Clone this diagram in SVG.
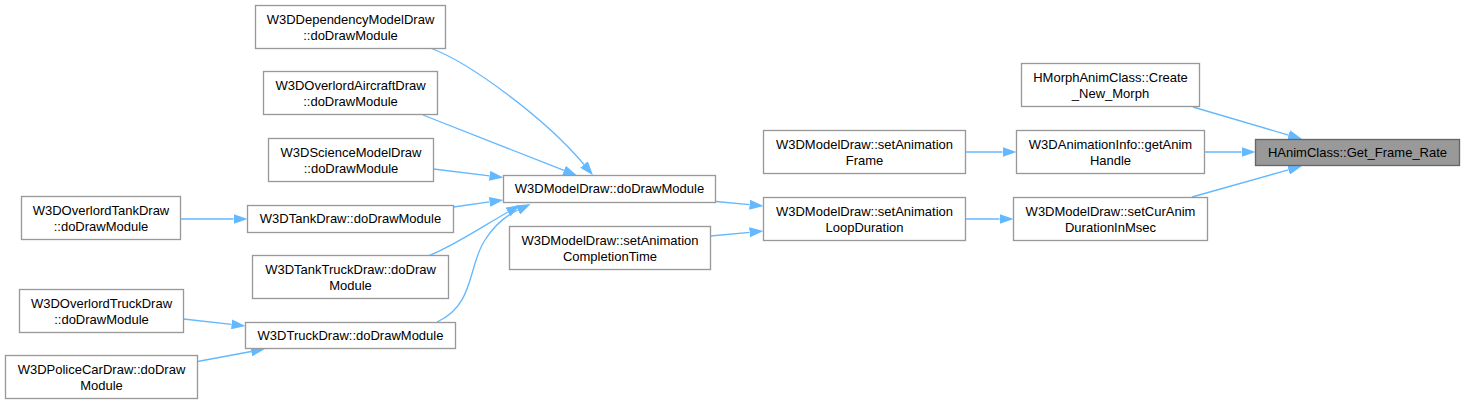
<svg xmlns="http://www.w3.org/2000/svg" width="1465" height="404" viewBox="0 0 1465 404">
<style>
.box{fill:#ffffff;stroke:#999999;stroke-width:1.33}
.main{fill:#999999;stroke:#666666;stroke-width:1.33}
text{font-family:"Liberation Sans",Arial,sans-serif;font-size:13px;fill:#000000;text-anchor:middle}
.edge{fill:none;stroke:#63b8ff;stroke-width:1.33;marker-end:url(#arr)}
</style>
<defs>
<marker id="arr" viewBox="0 0 14 10" markerWidth="14" markerHeight="10" refX="0" refY="5" markerUnits="userSpaceOnUse" orient="auto">
<path d="M0,0 L14,5 L0,10 z" fill="#63b8ff"/>
</marker>
</defs>
<rect width="1465" height="404" fill="#ffffff"/>
<g id="edges">
<path class="edge" d="M1193,107 L1288.6,135.1"/>
<path class="edge" d="M1204.5,152 L1241.5,152"/>
<path class="edge" d="M1192,197 L1288.5,169.8"/>
<path class="edge" d="M965.5,152 L1002.5,152"/>
<path class="edge" d="M965.5,219 L999.5,219"/>
<path class="edge" d="M716,201.5 L749.6,204.7"/>
<path class="edge" d="M710.5,236 L749.6,232.3"/>
<path class="edge" d="M431.5,48.5 C470,63 545,118 584,164.5"/>
<path class="edge" d="M423,115 L564,170.4"/>
<path class="edge" d="M433.5,169 L489.6,175.8"/>
<path class="edge" d="M453.5,207 L489.6,201.9"/>
<path class="edge" d="M428,256 C452,247 485,225 508,212"/>
<path class="edge" d="M437,322 C475,305 468,265 485,240 C492,229 503,217 518,210"/>
<path class="edge" d="M181,219 L233.5,219"/>
<path class="edge" d="M183.5,319 L231.6,324.4"/>
<path class="edge" d="M197.5,361.5 L251.2,351.5"/>
</g>
<g id="n_main"><rect class="main" x="1255.5" y="139.5" width="204" height="26"/><text x="1357.5" y="157">HAnimClass::Get_Frame_Rate</text></g>
<g id="n_hmorph"><rect class="box" x="1021.5" y="63.5" width="178" height="43"/><text x="1110.5" y="82">HMorphAnimClass::Create</text><text x="1110.5" y="97.5">_New_Morph</text></g>
<g id="n_animinfo"><rect class="box" x="1016.5" y="130.5" width="188" height="43"/><text x="1110.5" y="149">W3DAnimationInfo::getAnim</text><text x="1110.5" y="164.5">Handle</text></g>
<g id="n_setcuranim"><rect class="box" x="1013.5" y="197.5" width="194" height="43"/><text x="1110.5" y="216">W3DModelDraw::setCurAnim</text><text x="1110.5" y="231.5">DurationInMsec</text></g>
<g id="n_setanimframe"><rect class="box" x="763.5" y="130.5" width="202" height="43"/><text x="864.5" y="149">W3DModelDraw::setAnimation</text><text x="864.5" y="164.5">Frame</text></g>
<g id="n_loopduration"><rect class="box" x="763.5" y="197.5" width="202" height="43"/><text x="864.5" y="216">W3DModelDraw::setAnimation</text><text x="864.5" y="231.5">LoopDuration</text></g>
<g id="n_dodraw"><rect class="box" x="503.5" y="175.5" width="212" height="27"/><text x="609.5" y="193">W3DModelDraw::doDrawModule</text></g>
<g id="n_completion"><rect class="box" x="509.5" y="226.5" width="201" height="43"/><text x="610" y="245">W3DModelDraw::setAnimation</text><text x="610" y="260.5">CompletionTime</text></g>
<g id="n_dependency"><rect class="box" x="255.5" y="5.5" width="190" height="43"/><text x="350.5" y="24">W3DDependencyModelDraw</text><text x="350.5" y="39.5">::doDrawModule</text></g>
<g id="n_aircraft"><rect class="box" x="263.5" y="71.5" width="174" height="43"/><text x="350.5" y="90">W3DOverlordAircraftDraw</text><text x="350.5" y="105.5">::doDrawModule</text></g>
<g id="n_science"><rect class="box" x="268.5" y="138.5" width="165" height="43"/><text x="351" y="157">W3DScienceModelDraw</text><text x="351" y="172.5">::doDrawModule</text></g>
<g id="n_tankdraw"><rect class="box" x="247.5" y="205.5" width="206" height="27"/><text x="350.5" y="223">W3DTankDraw::doDrawModule</text></g>
<g id="n_tanktruck"><rect class="box" x="252.5" y="255.5" width="196" height="43"/><text x="350.5" y="274">W3DTankTruckDraw::doDraw</text><text x="350.5" y="289.5">Module</text></g>
<g id="n_truckdraw"><rect class="box" x="245.5" y="322.5" width="210" height="26"/><text x="350.5" y="340">W3DTruckDraw::doDrawModule</text></g>
<g id="n_overlordtank"><rect class="box" x="21.5" y="196.5" width="159" height="43"/><text x="101" y="215">W3DOverlordTankDraw</text><text x="101" y="230.5">::doDrawModule</text></g>
<g id="n_overlordtruck"><rect class="box" x="19.5" y="289.5" width="164" height="43"/><text x="101.5" y="308">W3DOverlordTruckDraw</text><text x="101.5" y="323.5">::doDrawModule</text></g>
<g id="n_policecar"><rect class="box" x="5.5" y="355.5" width="192" height="43"/><text x="101.5" y="374">W3DPoliceCarDraw::doDraw</text><text x="101.5" y="389.5">Module</text></g>
</svg>
